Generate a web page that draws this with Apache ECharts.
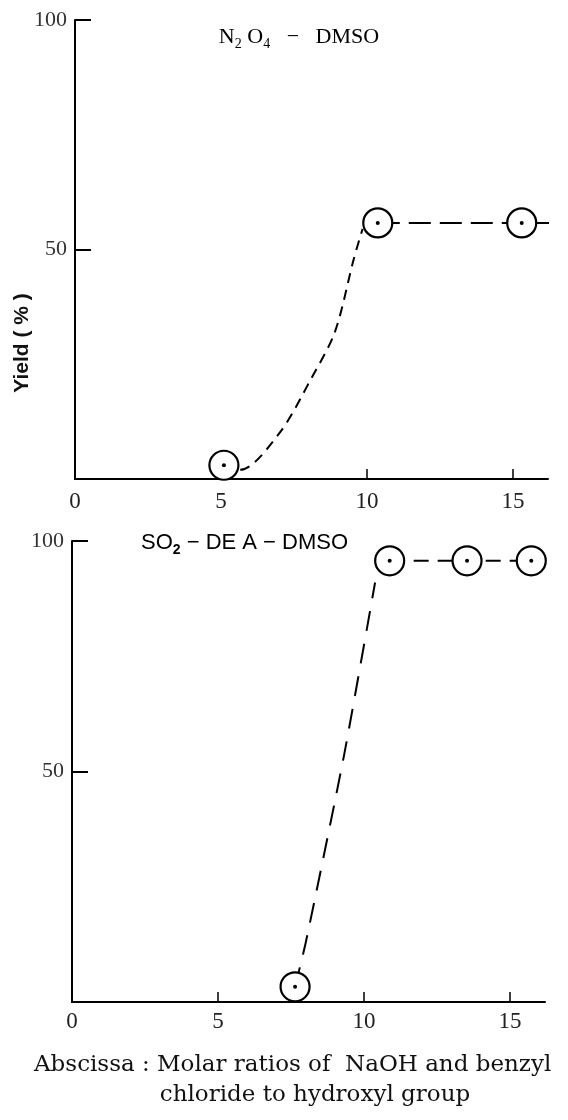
<!DOCTYPE html>
<html>
<head>
<meta charset="utf-8">
<script src="https://cdn.jsdelivr.net/npm/echarts@6/dist/echarts.min.js"></script>
<style>
html,body{margin:0;padding:0;background:#fff;}
#chart{width:568px;height:1120px;}
</style>
</head>
<body>
<div id="chart"></div>
<script>
// ---- data ----
const xTickValues = [0, 5, 10, 15];
const xTickMarks = [5, 10, 15];
const yTickValues = [50, 100];

// Top panel: N2O4 - DMSO
const topCircleX = [5.1, 10.37, 15.3];
const topCircleY = [3.0, 55.8, 55.8];
const topCurveX = [5.1, 5.65, 7.0, 8.1, 8.9, 9.55, 9.85];
const topCurveY = [3.0, 2.0, 10.0, 22.0, 32.0, 48.0, 54.5];
const topPlateauX = [10.37, 15.3, 16.54];
const topPlateauY = [55.8, 55.8, 55.8];

// Bottom panel: SO2 - DEA - DMSO
const botCircleX = [7.64, 10.88, 13.53, 15.73];
const botCircleY = [3.3, 95.7, 95.7, 95.7];
const botCurveX = [7.64, 8.01, 9.32, 10.38];
const botCurveY = [3.3, 13.0, 53.6, 91.0];
const botPlateauX = [10.88, 13.53, 15.73, 16.99];
const botPlateauY = [95.7, 95.7, 95.7, 95.7];

const pairs = (xs, ys) => xs.map((x, i) => [x, ys[i]]);

const chart = echarts.init(document.getElementById('chart'), null, {renderer: 'canvas'});

const serif = '"Liberation Serif", "DejaVu Serif", serif';
const sans = '"Liberation Sans", Arial, sans-serif';
const lineCol = '#000';

function xAxisCfg(gridIndex, margin) {
  return {
    type: 'value', gridIndex: gridIndex, min: 0, max: 16.2,
    axisLine: {show: true, onZero: false, lineStyle: {color: lineCol, width: 2}},
    axisTick: {show: true, inside: true, length: 10, customValues: xTickMarks, lineStyle: {color: lineCol, width: 1.5}},
    axisLabel: {show: true, customValues: xTickValues, margin: margin, color: '#222', fontFamily: serif, fontSize: 23},
    splitLine: {show: false}
  };
}
function yAxisCfg(gridIndex) {
  return {
    type: 'value', gridIndex: gridIndex, min: 0, max: 100,
    axisLine: {show: true, onZero: false, lineStyle: {color: lineCol, width: 2}},
    axisTick: {show: true, inside: true, length: 16, customValues: yTickValues, lineStyle: {color: lineCol, width: 2}},
    axisLabel: {show: true, customValues: yTickValues, margin: 8, color: '#333', fontFamily: serif, fontSize: 22},
    splitLine: {show: false}
  };
}

function circleSeries(xi, data, size) {
  return [{
    type: 'scatter', xAxisIndex: xi, yAxisIndex: xi, data: data,
    symbol: 'circle', symbolSize: size, z: 5,
    itemStyle: {color: '#fff', borderColor: lineCol, borderWidth: 2.2, opacity: 1}
  }, {
    type: 'scatter', xAxisIndex: xi, yAxisIndex: xi, data: data,
    symbol: 'circle', symbolSize: 4, z: 6,
    itemStyle: {color: lineCol, opacity: 1}
  }];
}
function lineSeries(xi, data, dash, smooth) {
  return {
    type: 'line', xAxisIndex: xi, yAxisIndex: xi, data: data,
    showSymbol: false, symbol: 'none', smooth: smooth, clip: false, z: 3,
    lineStyle: {color: lineCol, width: 2, type: dash}
  };
}

const subRich = {
  n: {fontFamily: serif, fontSize: 22, color: '#111', lineHeight: 28, verticalAlign: 'middle'},
  s: {fontFamily: serif, fontSize: 14, color: '#111', lineHeight: 14, verticalAlign: 'bottom'},
  b: {fontFamily: sans, fontSize: 22, color: '#111', lineHeight: 28, verticalAlign: 'middle'},
  bs: {fontFamily: sans, fontSize: 14, fontWeight: 'bold', color: '#111', lineHeight: 14, verticalAlign: 'bottom'}
};

const option = {
  backgroundColor: '#fff',
  animation: false,
  grid: [
    {left: 75, top: 20, width: 473, height: 459},
    {left: 72, top: 541, width: 473, height: 461}
  ],
  xAxis: [xAxisCfg(0, 11), xAxisCfg(1, 8)],
  yAxis: [yAxisCfg(0), yAxisCfg(1)],
  series: [
    lineSeries(0, pairs(topCurveX, topCurveY), [10, 7], 0.3),
    lineSeries(0, pairs(topPlateauX, topPlateauY), [22, 9], false),
    ...circleSeries(0, pairs(topCircleX, topCircleY), 29),
    lineSeries(1, pairs(botCurveX, botCurveY), [20, 13], 0.2),
    lineSeries(1, pairs(botPlateauX, botPlateauY), [15, 9], false),
    ...circleSeries(1, pairs(botCircleX, botCircleY), 29)
  ],
  graphic: [
    {
      type: 'text', x: 299, y: 37,
      style: {
        text: '{n|N}{s|2}{n| O}{s|4}{n|   −   DMSO}',
        rich: subRich, align: 'center', verticalAlign: 'middle'
      }
    },
    {
      type: 'text', x: 141, y: 543,
      style: {
        text: '{b|SO}{bs|2}{b| − DE A − DMSO}',
        rich: subRich, align: 'left', verticalAlign: 'middle'
      }
    },
    {
      type: 'text', x: 22, y: 343, rotation: Math.PI / 2,
      style: {
        text: 'Yield ( % )', fontFamily: sans,
        fontSize: 21, fontWeight: 'bold', fill: '#111', align: 'center', verticalAlign: 'middle'
      }
    },
    {
      type: 'text', x: 34, y: 1065,
      style: {
        text: 'Abscissa : Molar ratios of  NaOH and benzyl',
        fontFamily: '"DejaVu Serif", serif', fontSize: 23, fill: '#111',
        align: 'left', verticalAlign: 'middle'
      }
    },
    {
      type: 'text', x: 315, y: 1095,
      style: {
        text: 'chloride to hydroxyl group',
        fontFamily: '"DejaVu Serif", serif', fontSize: 23, fill: '#111',
        align: 'center', verticalAlign: 'middle'
      }
    }
  ]
};
chart.setOption(option);
</script>
</body>
</html>
